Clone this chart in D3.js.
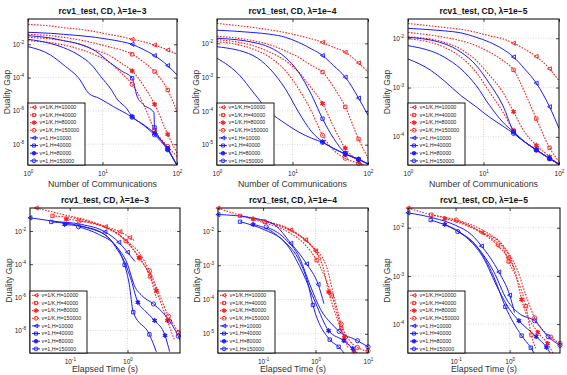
<!DOCTYPE html>
<html>
<head>
<meta charset="utf-8">
<script src="https://cdn.jsdelivr.net/npm/d3@7"></script>
<style>
  body { margin: 0; background: #fff; }
  svg { font-family: "Liberation Sans", Arial, sans-serif; }
</style>
</head>
<body>
<svg id="chart" width="567" height="375"></svg>
<script>
// legend entries (same order in every panel)
var legendLabels = ["v=1/K,H=10000", "v=1/K,H=40000", "v=1/K,H=80000", "v=1/K,H=150000",
                    "v=1,H=10000", "v=1,H=40000", "v=1,H=80000", "v=1,H=150000"];
var lambdas = ["1e\u22123", "1e\u22124", "1e\u22125"];

// top row: [communications, log10 duality gap], m = indices carrying a marker
var commL3 = [
  {p: [[1,-0.8],[2,-0.9],[3,-1.0],[5,-1.1],[8,-1.24],[12,-1.4],[18,-1.54],[25,-1.7],[35,-1.84],[50,-2.04],[75,-2.34],[100,-2.6]], m: [7,9,10]},
  {p: [[1,-1.4],[2,-1.48],[3,-1.58],[5,-1.74],[8,-1.94],[12,-2.14],[18,-2.34],[25,-2.6],[35,-3.04],[50,-3.64],[75,-4.74],[100,-6.04]], m: [7,9,10]},
  {p: [[1,-1.58],[2,-1.68],[3,-1.78],[5,-2.0],[8,-2.34],[12,-2.64],[18,-3.14],[25,-3.6],[35,-4.44],[50,-5.6],[75,-7.4],[100,-8.54]], m: [7,9,10]},
  {p: [[1,-1.78],[2,-1.9],[3,-2.04],[5,-2.3],[8,-2.64],[12,-3.04],[18,-3.74],[25,-4.4],[35,-5.54],[50,-7.14],[75,-8.14],[100,-8.74]], m: [7,9,10]},
  {p: [[1,-1.28],[2,-1.34],[3,-1.4],[5,-1.48],[8,-1.58],[12,-1.7],[18,-1.84],[25,-2.0],[35,-2.3],[50,-2.68],[75,-3.28],[100,-3.84]], m: [7,9,10]},
  {p: [[1,-1.48],[2,-1.62],[3,-1.78],[5,-2.0],[8,-2.4],[12.9,-3.14],[18,-3.6],[25,-4.04],[29,-5.1],[35,-5.6],[49,-6.1],[50,-7.0],[75,-8.24],[100,-9.28]], m: [7,11,12]},
  {p: [[1,-1.7],[2,-1.95],[3,-2.2],[5,-2.7],[7,-3.2],[9.5,-3.94],[13,-4.7],[16,-5.34],[21,-5.84],[25,-6.34],[35,-6.8],[50,-7.35],[75,-8.3],[100,-9.28]], m: [9,11,12]},
  {p: [[1,-2.14],[2,-2.64],[3,-3.24],[5,-4.14],[6.5,-4.94],[9,-5.24],[14,-5.74],[25,-6.38],[50,-7.44],[75,-8.34],[100,-9.28]], m: [7,8,9]}
];
var commL4 = [
  {p: [[1,-1.41],[3,-1.53],[5,-1.6],[8,-1.68],[12,-1.77],[18,-1.87],[25,-1.97],[35,-2.12],[50,-2.26],[75,-2.58],[100,-2.85]], m: [6,8,9]},
  {p: [[1,-1.79],[3,-1.92],[5,-2.04],[8,-2.22],[12,-2.41],[18,-2.66],[25,-2.85],[35,-3.29],[50,-3.88],[75,-4.83],[100,-5.4]], m: [6,8,9]},
  {p: [[1,-1.89],[3,-2.07],[5,-2.26],[8,-2.51],[12,-2.85],[18,-3.34],[25,-3.78],[35,-4.47],[50,-5.1],[75,-5.5],[100,-5.7]], m: [6,8,9]},
  {p: [[1,-1.95],[3,-2.17],[5,-2.41],[8,-2.8],[12,-3.34],[18,-4.03],[25,-4.72],[35,-5.16],[50,-5.4],[75,-5.55],[100,-5.65]], m: [6,8,9]},
  {p: [[1,-1.61],[3,-1.68],[5,-1.73],[8,-1.82],[12,-1.97],[18,-2.17],[25,-2.36],[35,-2.66],[50,-3.0],[75,-3.62],[100,-4.13]], m: [6,8,9]},
  {p: [[1,-1.85],[3,-1.97],[5,-2.12],[8,-2.41],[12,-2.85],[18,-3.54],[25,-4.23],[35,-4.81],[50,-5.25],[75,-5.43],[100,-5.57]], m: [6,8,9]},
  {p: [[1,-2.1],[3,-2.36],[5,-2.75],[8,-3.34],[12,-4.03],[18,-4.62],[25,-4.91],[35,-5.11],[50,-5.28],[75,-5.43],[100,-5.57]], m: [6,8,9]},
  {p: [[1,-2.44],[2,-2.95],[3,-3.44],[5,-4.03],[8,-4.37],[12,-4.62],[18,-4.81],[25,-4.93],[35,-5.11],[50,-5.27],[75,-5.43],[100,-5.57]], m: [7,9,10]}
];
var commL5 = [
  {p: [[1,-1.7],[3,-1.78],[5,-1.82],[8,-1.88],[12,-1.95],[18,-2.01],[25,-2.1],[35,-2.22],[50,-2.37],[75,-2.62],[100,-2.86]], m: [6,8,9]},
  {p: [[1,-1.88],[3,-1.98],[5,-2.05],[8,-2.15],[12,-2.28],[18,-2.45],[25,-2.64],[35,-3.09],[50,-3.63],[75,-4.22],[100,-4.5]], m: [6,8,9]},
  {p: [[1,-1.97],[3,-2.08],[5,-2.22],[8,-2.45],[12,-2.75],[18,-3.09],[25,-3.49],[35,-3.9],[50,-4.17],[75,-4.4],[100,-4.57]], m: [6,8,9]},
  {p: [[1,-2.01],[3,-2.18],[5,-2.38],[8,-2.69],[12,-3.09],[18,-3.49],[25,-3.87],[35,-4.1],[50,-4.27],[75,-4.44],[100,-4.57]], m: [6,8,9]},
  {p: [[1,-1.8],[3,-1.85],[5,-1.89],[8,-1.98],[12,-2.08],[18,-2.22],[25,-2.38],[35,-2.62],[50,-2.91],[75,-3.39],[100,-3.83]], m: [6,8,9]},
  {p: [[1,-1.98],[3,-2.11],[5,-2.28],[8,-2.55],[12,-2.92],[18,-3.36],[25,-3.89],[35,-4.1],[50,-4.26],[75,-4.44],[100,-4.55]], m: [6,8,9]},
  {p: [[1,-2.15],[3,-2.38],[5,-2.62],[8,-2.96],[12,-3.36],[18,-3.7],[25,-3.9],[35,-4.1],[50,-4.26],[75,-4.44],[100,-4.55]], m: [6,8,9]},
  {p: [[1,-2.42],[2,-2.65],[3,-2.86],[5,-3.16],[8,-3.39],[12,-3.6],[18,-3.78],[25,-3.93],[35,-4.1],[50,-4.26],[75,-4.44],[100,-4.55]], m: [7,9,10]}
];

// bottom row: [log10 elapsed seconds, log10 duality gap]
var timeL3 = [
  {p: [[-1.58,-0.61],[-1.06,-1.05],[-0.7,-1.35],[-0.38,-1.74],[-0.13,-2.04],[0.04,-2.4],[0.13,-2.6]], m: [0,3,4,5]},
  {p: [[-1.3,-1.09],[-0.8,-1.3],[-0.4,-1.75],[-0.15,-2.2],[-0.03,-2.6],[0.21,-3.64],[0.39,-4.74],[0.5,-6.04]], m: [0,4,5,6]},
  {p: [[-1.06,-1.28],[-0.6,-1.55],[-0.3,-1.9],[-0.05,-2.5],[0.2,-3.6],[0.35,-4.4],[0.5,-5.6],[0.69,-7.4],[0.81,-8.54]], m: [0,4,6,7]},
  {p: [[-0.84,-1.4],[-0.4,-1.74],[0.0,-2.64],[0.2,-3.3],[0.38,-4.4],[0.55,-5.8],[0.71,-7.14],[0.88,-8.14],[0.95,-8.74]], m: [0,4,6,7]},
  {p: [[-1.69,-1.2],[-1.3,-1.4],[-0.8,-1.6],[-0.39,-2.05],[-0.15,-2.68],[0.0,-3.28],[0.13,-3.84]], m: [0,3,4,5]},
  {p: [[-1.32,-1.45],[-0.8,-1.7],[-0.4,-2.2],[-0.2,-3.0],[-0.05,-4.04],[0.03,-5.2],[0.1,-6.9],[0.38,-8.24],[0.5,-9.28]], m: [0,4,6,7]},
  {p: [[-1.09,-1.6],[-0.6,-1.9],[-0.3,-2.5],[-0.1,-3.5],[0.05,-4.8],[0.18,-6.3],[0.3,-6.8],[0.47,-7.4],[0.65,-8.3],[0.73,-9.28]], m: [0,5,7,8]},
  {p: [[-0.85,-1.74],[-0.5,-2.2],[-0.2,-2.9],[0.0,-4.0],[0.12,-5.3],[0.25,-5.9],[0.45,-6.4],[0.73,-7.44],[0.88,-8.34],[0.95,-8.9]], m: [0,6,7,8]}
];
var timeL4 = [
  {p: [[-1.86,-1.33],[-1.44,-1.54],[-0.97,-1.71],[-0.47,-1.97],[-0.19,-2.26],[0.0,-2.58],[0.12,-2.85]], m: [0,3,4,5]},
  {p: [[-1.44,-1.56],[-1.0,-1.75],[-0.5,-2.05],[-0.2,-2.4],[0.02,-2.85],[0.31,-3.88],[0.49,-4.83],[0.62,-5.4]], m: [0,4,5,6]},
  {p: [[-1.19,-1.65],[-0.7,-1.85],[-0.3,-2.15],[0.0,-2.6],[0.15,-3.1],[0.25,-3.78],[0.4,-4.5],[0.55,-5.1],[0.73,-5.5],[0.85,-5.7]], m: [0,5,7,8]},
  {p: [[-0.97,-1.73],[-0.5,-1.95],[-0.1,-2.4],[0.2,-3.0],[0.35,-3.9],[0.49,-4.72],[0.65,-5.2],[0.8,-5.4],[1.0,-5.5]], m: [0,5,7,8]},
  {p: [[-1.86,-1.52],[-1.2,-1.62],[-0.8,-1.8],[-0.47,-2.36],[-0.17,-2.96],[0.05,-3.56],[0.16,-4.12]], m: [0,3,4,5]},
  {p: [[-1.44,-1.73],[-1.0,-1.95],[-0.6,-2.3],[-0.3,-2.9],[-0.15,-3.5],[-0.05,-4.16],[0.27,-5.17],[0.44,-5.38],[0.55,-5.57]], m: [0,5,6,7]},
  {p: [[-1.19,-1.81],[-0.8,-2.05],[-0.5,-2.5],[-0.25,-3.2],[0.0,-4.1],[0.25,-4.91],[0.54,-5.2],[0.71,-5.43],[0.8,-5.57]], m: [0,5,6,7]},
  {p: [[-0.94,-1.88],[-0.6,-2.2],[-0.3,-2.8],[-0.1,-3.6],[0.1,-4.3],[0.3,-4.7],[0.45,-4.93],[0.8,-5.2],[1.0,-5.38]], m: [0,6,7,8]}
];
var timeL5 = [
  {p: [[-1.88,-1.59],[-1.45,-1.73],[-0.99,-1.84],[-0.52,-2.1],[-0.22,-2.37],[-0.03,-2.62],[0.09,-2.86]], m: [0,3,4,5]},
  {p: [[-1.45,-1.73],[-1.0,-1.85],[-0.5,-2.1],[-0.15,-2.35],[-0.02,-2.7],[0.15,-3.1],[0.3,-3.63],[0.4,-4.22],[0.48,-4.5]], m: [0,4,6,7]},
  {p: [[-1.2,-1.81],[-0.7,-2.0],[-0.3,-2.25],[0.0,-2.6],[0.12,-3.0],[0.22,-3.49],[0.52,-4.17],[0.7,-4.4],[0.8,-4.6]], m: [0,5,6,7]},
  {p: [[-0.99,-1.84],[-0.5,-2.05],[-0.1,-2.4],[0.15,-2.9],[0.3,-3.4],[0.46,-3.87],[0.76,-4.27],[0.93,-4.4]], m: [0,5,6,7]},
  {p: [[-1.88,-1.69],[-1.4,-1.8],[-1.0,-1.95],[-0.7,-2.15],[-0.52,-2.38],[-0.2,-2.92],[0.0,-3.4],[0.09,-3.76]], m: [0,4,5,6]},
  {p: [[-1.46,-1.84],[-1.0,-2.05],[-0.6,-2.4],[-0.3,-3.0],[-0.08,-3.64],[0.22,-4.24],[0.39,-4.49],[0.45,-4.6]], m: [0,4,5,6]},
  {p: [[-1.2,-1.93],[-0.8,-2.2],[-0.5,-2.6],[-0.2,-3.3],[0.0,-3.7],[0.17,-3.93],[0.49,-4.26],[0.68,-4.48],[0.75,-4.6]], m: [0,5,6,7]},
  {p: [[-0.96,-2.08],[-0.6,-2.4],[-0.3,-2.9],[-0.05,-3.5],[0.2,-3.8],[0.46,-3.93],[0.71,-4.26],[0.93,-4.44]], m: [0,5,6,7]}
];

// panel frames and axis extents (log10 units); xRaw: data x is given as a plain count
var panels = [
  {x0: 28, x1: 177, y0: 19, y1: 165, xd: [0, 2], yd: [-9.25, -0.48], xt: [0, 1, 2], yt: [-2, -4, -6, -8], lam: 0, data: commL3, xRaw: true, xl: "Number of Communications"},
  {x0: 217, x1: 368, y0: 19, y1: 165, xd: [0, 2], yd: [-5.6, -1.28], xt: [0, 1, 2], yt: [-2, -3, -4, -5], lam: 1, data: commL4, xRaw: true, xl: "Number of Communications"},
  {x0: 408, x1: 559, y0: 19, y1: 165, xd: [0, 2], yd: [-4.57, -1.61], xt: [0, 1, 2], yt: [-2, -3, -4], lam: 2, data: commL5, xRaw: true, xl: "Number of Communications"},
  {x0: 30, x1: 180, y0: 208, y1: 353, xd: [-1.69, 0.91], yd: [-9.36, -0.61], xt: [-1, 0], yt: [-2, -4, -6, -8], lam: 0, data: timeL3, xRaw: false, xl: "Elapsed Time (s)"},
  {x0: 218, x1: 368, y0: 208, y1: 353, xd: [-1.86, 1.0], yd: [-5.56, -1.33], xt: [-1, 0, 1], yt: [-2, -3, -4, -5], lam: 1, data: timeL4, xRaw: false, xl: "Elapsed Time (s)"},
  {x0: 408, x1: 560, y0: 208, y1: 353, xd: [-1.88, 0.93], yd: [-4.6, -1.59], xt: [-1, 0], yt: [-2, -3, -4], lam: 2, data: timeL5, xRaw: false, xl: "Elapsed Time (s)"}
];

var RED = "#ff1a1a", BLUE = "#1a1aff";
var svg = d3.select("#chart");
var pw = function (v) { return Math.pow(10, v); };

// marker shapes: 0 triangle-left, 1 square, 2 hexagram (filled), 3 circle
function markerPath(k, r) {
  if (k === 0) return "M" + (-r) + ",0L" + (r * 0.9) + "," + (-r) + "L" + (r * 0.9) + "," + r + "Z";
  if (k === 1) { var s = r * 0.8; return "M" + (-s) + "," + (-s) + "h" + 2 * s + "v" + 2 * s + "h" + (-2 * s) + "Z"; }
  if (k === 2) {
    var pts = [];
    for (var i = 0; i < 12; i++) {
      var a = -Math.PI / 2 + i * Math.PI / 6, rr = i % 2 ? r / Math.sqrt(3) : r * 1.15;
      pts.push([rr * Math.cos(a), rr * Math.sin(a)]);
    }
    return "M" + pts.join("L") + "Z";
  }
  return "M" + r + ",0A" + r + "," + r + ",0,1,1," + (-r) + ",0A" + r + "," + r + ",0,1,1," + r + ",0";
}

function supLabel(sel, exps) {
  sel.each(function (d, i) {
    var t = d3.select(this).text("10");
    t.append("tspan").attr("dy", -3).attr("font-size", 4.6).text(String(exps[i]));
  });
}

panels.forEach(function (P, pi) {
  var g = svg.append("g");
  var x = d3.scaleLog().domain([pw(P.xd[0]), pw(P.xd[1])]).range([P.x0, P.x1]);
  var y = d3.scaleLog().domain([pw(P.yd[0]), pw(P.yd[1])]).range([P.y1, P.y0]);
  var xv = function (v) { return P.xRaw ? v : pw(v); };

  // dotted grid at the labelled decades
  P.xt.forEach(function (t) {
    var xx = x(pw(t));
    if (xx > P.x0 + 1 && xx < P.x1 - 1)
      g.append("line").attr("x1", xx).attr("x2", xx).attr("y1", P.y0).attr("y2", P.y1)
        .attr("stroke", "#c8c8c8").attr("stroke-width", 0.7).attr("stroke-dasharray", "1,1.5");
  });
  P.yt.forEach(function (t) {
    var yy = y(pw(t));
    g.append("line").attr("x1", P.x0).attr("x2", P.x1).attr("y1", yy).attr("y2", yy)
      .attr("stroke", "#c8c8c8").attr("stroke-width", 0.7).attr("stroke-dasharray", "1,1.5");
  });

  // axes, ticks pointing inward on all four sides
  var yTicks = P.yt.map(pw), xTicks = P.xt.map(pw);
  var la = g.append("g").attr("transform", "translate(" + P.x0 + ",0)")
    .call(d3.axisLeft(y).tickValues(yTicks).tickSizeInner(-3).tickSizeOuter(0).tickPadding(4));
  var ba = g.append("g").attr("transform", "translate(0," + P.y1 + ")")
    .call(d3.axisBottom(x).tickValues(xTicks).tickSizeInner(-3).tickSizeOuter(0).tickPadding(6));
  g.append("g").attr("transform", "translate(" + P.x1 + ",0)")
    .call(d3.axisRight(y).tickValues(yTicks).tickSizeInner(-3).tickSizeOuter(0).tickFormat(""));
  g.append("g").attr("transform", "translate(0," + P.y0 + ")")
    .call(d3.axisTop(x).tickValues(xTicks).tickSizeInner(-3).tickSizeOuter(0).tickFormat(""));
  g.selectAll(".domain").remove();
  g.selectAll(".tick line").attr("stroke", "#000").attr("stroke-width", 0.7);
  g.selectAll(".tick text").attr("font-family", "Liberation Sans, Arial, sans-serif")
    .attr("font-size", 6.5).attr("fill", "#222");
  supLabel(la.selectAll(".tick text"), P.yt);
  supLabel(ba.selectAll(".tick text"), P.xt);

  // curves
  var cid = "clip" + pi;
  svg.append("clipPath").attr("id", cid).append("rect")
    .attr("x", P.x0).attr("y", P.y0).attr("width", P.x1 - P.x0).attr("height", P.y1 - P.y0);
  var line = d3.line()
    .x(function (d) { return x(xv(d[0])); })
    .y(function (d) { return y(pw(d[1])); })
    .curve(d3.curveMonotoneX);
  var cg = g.append("g").attr("clip-path", "url(#" + cid + ")");
  var mg = g.append("g");
  P.data.forEach(function (c, ci) {
    var red = ci < 4, col = red ? RED : BLUE, k = ci % 4;
    cg.append("path").attr("d", line(c.p)).attr("fill", "none")
      .attr("stroke", col).attr("stroke-width", red ? 1.1 : 1)
      .attr("stroke-dasharray", red ? "1.6,1.4" : null);
    c.m.forEach(function (idx) {
      var d = c.p[idx];
      mg.append("path").attr("d", markerPath(k, 2.1))
        .attr("transform", "translate(" + x(xv(d[0])) + "," + y(pw(d[1])) + ")")
        .attr("fill", k === 2 ? col : "none").attr("stroke", col).attr("stroke-width", 0.9);
    });
  });

  // frame
  g.append("rect").attr("x", P.x0).attr("y", P.y0).attr("width", P.x1 - P.x0).attr("height", P.y1 - P.y0)
    .attr("fill", "none").attr("stroke", "#000").attr("stroke-width", 1);

  // legend in the lower-left corner
  var lw = 57, lh = 62, lx = P.x0, ly = P.y1 - lh;
  var lg = g.append("g");
  lg.append("rect").attr("x", lx).attr("y", ly).attr("width", lw).attr("height", lh)
    .attr("fill", "#fff").attr("stroke", "#000").attr("stroke-width", 0.9);
  legendLabels.forEach(function (lab, i) {
    var red = i < 4, col = red ? RED : BLUE, k = i % 4, yy = ly + 4.3 + i * 7.65;
    lg.append("line").attr("x1", lx + 2).attr("x2", lx + 10).attr("y1", yy).attr("y2", yy)
      .attr("stroke", col).attr("stroke-width", 1).attr("stroke-dasharray", red ? "1.5,1.2" : null);
    lg.append("path").attr("d", markerPath(k, 1.9)).attr("transform", "translate(" + (lx + 6) + "," + yy + ")")
      .attr("fill", k === 2 ? col : "none").attr("stroke", col).attr("stroke-width", 0.9);
    lg.append("text").attr("x", lx + 11.5).attr("y", yy + 1.8).attr("font-size", 5.3).attr("fill", "#222").text(lab);
  });

  // titles and axis labels
  g.append("text").attr("x", (P.x0 + P.x1) / 2).attr("y", P.y0 - 5).attr("text-anchor", "middle")
    .attr("font-size", 8.5).attr("font-weight", "bold").attr("fill", "#111")
    .text("rcv1_test, CD, \u03bb=" + lambdas[P.lam]);
  g.append("text").attr("x", (P.x0 + P.x1) / 2).attr("y", Math.min(P.y1 + 22, 372)).attr("text-anchor", "middle")
    .attr("font-size", 8.8).attr("fill", "#333").text(P.xl);
  g.append("text").attr("transform", "translate(" + (P.x0 - 18) + "," + ((P.y0 + P.y1) / 2) + ") rotate(-90)")
    .attr("text-anchor", "middle").attr("font-size", 8.5).attr("fill", "#333").text("Duality Gap");
});
</script>
</body>
</html>
